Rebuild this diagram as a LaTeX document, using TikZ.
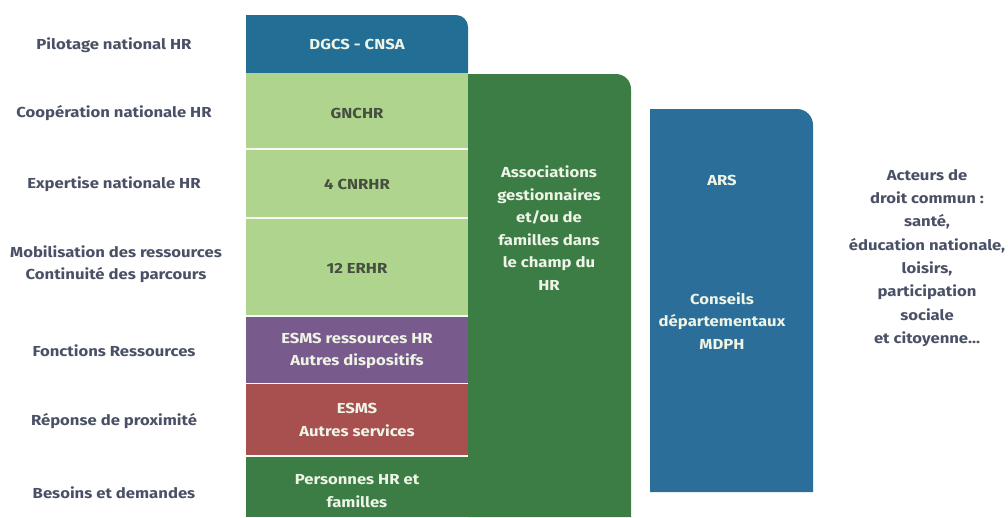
\documentclass[tikz,border=0pt]{standalone}
\usepackage{fontspec}
\setmainfont{Fira Sans}[FakeStretch=1.15]
\usepackage{tikz}
\usetikzlibrary{positioning}

\definecolor{pilotblue}{HTML}{236E94}
\definecolor{arsblue}{HTML}{2A6E99}
\definecolor{lightgreen}{HTML}{AFD48E}
\definecolor{darkgreen}{HTML}{3B7D45}
\definecolor{resspurple}{HTML}{785A8C}
\definecolor{proxred}{HTML}{A8504F}
\definecolor{labelgray}{HTML}{4A5166}
\definecolor{rowtext}{HTML}{454F40}
\definecolor{paletext}{HTML}{EEF4E6}

\begin{document}
\begin{tikzpicture}
[
x=1pt, y=-1pt,
level/.style={font=\bfseries\fontsize{14.5}{22.5}\selectfont, text=labelgray, align=center},
rowlbl/.style={font=\bfseries\fontsize{14.5}{22.5}\selectfont, text=rowtext, align=center},
darklbl/.style={font=\bfseries\fontsize{14.5}{22.5}\selectfont, text=paletext, align=center},
sep/.style={draw=white!90!lightgreen, line width=1.5pt}
]
\useasboundingbox (0,0) rectangle (1008,517);

%Blocks
\fill[darkgreen] (468,517) -- (468,74) [rounded corners=15pt] -- (631,74) [sharp corners] -- (631,517) -- cycle;
\fill[arsblue] (650,492) -- (650,109) [rounded corners=16pt] -- (813,109) [sharp corners] -- (813,492) -- cycle;
\fill[pilotblue] (246,73) -- (246,15) [rounded corners=12pt] -- (468,15) [sharp corners] -- (468,73) -- cycle;
\fill[lightgreen] (246,73) rectangle (468,316);
\fill[resspurple] (246,316) rectangle (468,383);
\fill[proxred] (246,383) rectangle (468,456);
\fill[darkgreen] (246,456) rectangle (468,517);

%Lines
\draw[sep] (246,149) -- (468,149);
\draw[sep] (246,218) -- (468,218);
\draw[sep] (246,316) -- (468,316);
\draw[sep] (246,383.5) -- (468,383.5);
\draw[sep] (246,456) -- (468,456);

%Nodes
\node[level]   (pilot)    at (114,45)  {Pilotage national HR};
\node[level]   (coop)     at (114,113) {Coopération nationale HR};
\node[level]   (expert)   at (114,184) {Expertise nationale HR};
\node[level]   (mobil)    at (116,264) {Mobilisation des ressources\\Continuité des parcours};
\node[level]   (fonct)    at (114,351) {Fonctions Ressources};
\node[level]   (prox)     at (114,421) {Réponse de proximité};
\node[level]   (besoins)  at (114,493) {Besoins et demandes};

\node[darklbl] (dgcs)     at (357,44)  {DGCS - CNSA};
\node[rowlbl]  (gnchr)    at (357,113) {GNCHR};
\node[rowlbl]  (cnrhr)    at (357,184) {4 CNRHR};
\node[rowlbl]  (erhr)     at (357,268) {12 ERHR};
\node[darklbl] (esmsres)  at (357,351) {ESMS ressources HR\\Autres dispositifs};
\node[darklbl] (esms)     at (357,420) {ESMS\\Autres services};
\node[darklbl] (pers)     at (357,491) {Personnes HR et\\familles};

\node[darklbl] (assoc)    at (549,228) {Associations\\gestionnaires\\et/ou de\\familles dans\\le champ du\\HR};

\node[darklbl] (ars)      at (722,180) {ARS};
\node[darklbl] (cd)       at (722,321) {Conseils\\départementaux\\MDPH};

\node[level, font=\bfseries\fontsize{14.5}{23.3}\selectfont]
               (acteurs)  at (927,258) {Acteurs de\\droit commun :\\santé,\\éducation nationale,\\loisirs,\\participation\\sociale\\et citoyenne...};
\end{tikzpicture}
\end{document}
